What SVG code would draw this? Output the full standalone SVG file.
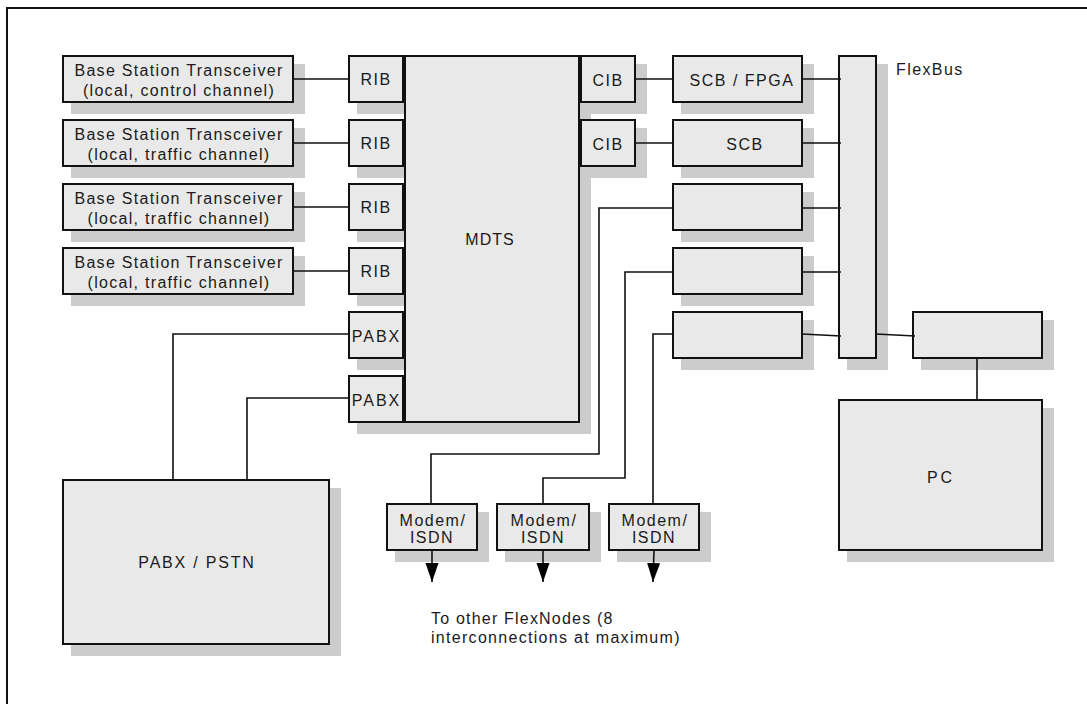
<svg xmlns="http://www.w3.org/2000/svg" width="1087" height="704" viewBox="0 0 1087 704">
  <style>
    .sh { fill: #cccccc; stroke: none; }
    .bx { fill: #e9e9e9; stroke: #111; stroke-width: 2; }
    .t { font-family: "Liberation Sans", Arial, sans-serif; font-size: 16px; letter-spacing: 1.5px; fill: #1a1a1a; text-anchor: middle; }
    .tl { text-anchor: start; }
    .c { fill: none; stroke: #111; stroke-width: 1.6; }
  </style>
  <defs>
    <marker id="arr" markerUnits="userSpaceOnUse" markerWidth="20" markerHeight="14" viewBox="0 0 20 14" refX="19" refY="7" orient="auto">
      <path d="M0,0.5 L19,7 L0,13.5 Z" fill="#000"/>
    </marker>
  </defs>
  <rect x="7" y="8" width="1100" height="720" fill="none" stroke="#111" stroke-width="2"/>

  <g id="bst1"><rect class="sh" x="71" y="64" width="234" height="50"/><rect class="bx" x="63" y="56" width="230" height="46"/>
    <text class="t" style="letter-spacing:1.3px" x="179" y="76">Base Station Transceiver</text><text class="t" style="letter-spacing:1.3px" x="179" y="95.5">(local, control channel)</text></g>
  <g id="bst2"><rect class="sh" x="71" y="128" width="234" height="50"/><rect class="bx" x="63" y="120" width="230" height="46"/>
    <text class="t" style="letter-spacing:1.3px" x="179" y="140">Base Station Transceiver</text><text class="t" style="letter-spacing:1.3px" x="179" y="159.5">(local, traffic channel)</text></g>
  <g id="bst3"><rect class="sh" x="71" y="192" width="234" height="50"/><rect class="bx" x="63" y="184" width="230" height="46"/>
    <text class="t" style="letter-spacing:1.3px" x="179" y="204">Base Station Transceiver</text><text class="t" style="letter-spacing:1.3px" x="179" y="223.5">(local, traffic channel)</text></g>
  <g id="bst4"><rect class="sh" x="71" y="256" width="234" height="50"/><rect class="bx" x="63" y="248" width="230" height="46"/>
    <text class="t" style="letter-spacing:1.3px" x="179" y="268">Base Station Transceiver</text><text class="t" style="letter-spacing:1.3px" x="179" y="287.5">(local, traffic channel)</text></g>

  <g id="rib1"><rect class="sh" x="357" y="64" width="58" height="50"/><rect class="bx" x="349" y="56" width="54" height="46"/><text class="t" x="376" y="85">RIB</text></g>
  <g id="rib2"><rect class="sh" x="357" y="128" width="58" height="50"/><rect class="bx" x="349" y="120" width="54" height="46"/><text class="t" x="376" y="149">RIB</text></g>
  <g id="rib3"><rect class="sh" x="357" y="192" width="58" height="50"/><rect class="bx" x="349" y="184" width="54" height="46"/><text class="t" x="376" y="213">RIB</text></g>
  <g id="rib4"><rect class="sh" x="357" y="256" width="58" height="50"/><rect class="bx" x="349" y="248" width="54" height="46"/><text class="t" x="376" y="277">RIB</text></g>
  <g id="pabx1"><rect class="sh" x="357" y="320" width="58" height="50"/><rect class="bx" x="349" y="312" width="54" height="46"/><text class="t" x="376.5" y="342" style="letter-spacing:2px">PABX</text></g>
  <g id="pabx2"><rect class="sh" x="357" y="384" width="58" height="50"/><rect class="bx" x="349" y="376" width="54" height="46"/><text class="t" x="376.5" y="406" style="letter-spacing:2px">PABX</text></g>

  <g id="mdts"><rect class="sh" x="413" y="64" width="178" height="370"/><rect class="bx" x="405" y="56" width="174" height="366"/><text class="t" x="490" y="245" style="letter-spacing:1px">MDTS</text></g>

  <g id="cib1"><rect class="sh" x="589" y="64" width="58" height="50"/><rect class="bx" x="581" y="56" width="54" height="46"/><text class="t" x="608" y="86">CIB</text></g>
  <g id="cib2"><rect class="sh" x="589" y="128" width="58" height="50"/><rect class="bx" x="581" y="120" width="54" height="46"/><text class="t" x="608" y="150">CIB</text></g>

  <g id="scbfpga"><rect class="sh" x="681" y="64" width="133" height="50"/><rect class="bx" x="673" y="56" width="129" height="46"/><text class="t" x="742" y="86">SCB / FPGA</text></g>
  <g id="scb"><rect class="sh" x="681" y="128" width="133" height="50"/><rect class="bx" x="673" y="120" width="129" height="46"/><text class="t" x="745" y="150">SCB</text></g>
  <g id="card3"><rect class="sh" x="681" y="192" width="133" height="50"/><rect class="bx" x="673" y="184" width="129" height="46"/></g>
  <g id="card4"><rect class="sh" x="681" y="256" width="133" height="50"/><rect class="bx" x="673" y="248" width="129" height="46"/></g>
  <g id="card5"><rect class="sh" x="681" y="320" width="133" height="50"/><rect class="bx" x="673" y="312" width="129" height="46"/></g>

  <g id="flexbus"><rect class="sh" x="847" y="64" width="41" height="306"/><rect class="bx" x="839" y="56" width="37" height="302"/><text class="t tl" x="896" y="75" style="letter-spacing:1.4px">FlexBus</text></g>
  <g id="interface"><rect class="sh" x="921" y="320" width="133" height="50"/><rect class="bx" x="913" y="312" width="129" height="46"/></g>
  <g id="pc"><rect class="sh" x="847" y="408" width="207" height="154"/><rect class="bx" x="839" y="400" width="203" height="150"/><text class="t" x="941" y="483" style="letter-spacing:3px">PC</text></g>
  <g id="pabxpstn"><rect class="sh" x="71" y="488" width="270" height="168"/><rect class="bx" x="63" y="480" width="266" height="164"/><text class="t" x="197" y="568" style="letter-spacing:1.8px">PABX / PSTN</text></g>

  <g id="modem1"><rect class="sh" x="395" y="512" width="94" height="50"/><rect class="bx" x="387" y="504" width="90" height="46"/><text class="t" x="433" y="525.5">Modem/</text><text class="t" x="432" y="542.5">ISDN</text></g>
  <g id="modem2"><rect class="sh" x="505" y="512" width="96" height="50"/><rect class="bx" x="497" y="504" width="92" height="46"/><text class="t" x="544" y="525.5">Modem/</text><text class="t" x="543" y="542.5">ISDN</text></g>
  <g id="modem3"><rect class="sh" x="617" y="512" width="94" height="50"/><rect class="bx" x="609" y="504" width="90" height="46"/><text class="t" x="655" y="525.5">Modem/</text><text class="t" x="654" y="542.5">ISDN</text></g>

  <g id="note"><text class="t tl" x="431" y="624" style="letter-spacing:1.2px">To other FlexNodes (8</text><text class="t tl" x="431" y="643" style="letter-spacing:1.3px">interconnections at maximum)</text></g>

  <g id="connectors">
    <line class="c" x1="293" y1="79" x2="349" y2="79"/>
    <line class="c" x1="293" y1="143" x2="349" y2="143"/>
    <line class="c" x1="293" y1="207" x2="349" y2="207"/>
    <line class="c" x1="293" y1="271" x2="349" y2="271"/>
    <line class="c" x1="635" y1="79" x2="673" y2="79"/>
    <line class="c" x1="635" y1="143" x2="673" y2="143"/>
    <line class="c" x1="802" y1="79" x2="841" y2="79"/>
    <line class="c" x1="802" y1="143" x2="841" y2="143"/>
    <line class="c" x1="802" y1="208" x2="841" y2="208"/>
    <line class="c" x1="802" y1="272" x2="841" y2="272"/>
    <line class="c" x1="802" y1="334" x2="841" y2="336"/>
    <line class="c" x1="876" y1="334" x2="915" y2="336"/>
    <line class="c" x1="977" y1="358" x2="977" y2="400"/>
    <polyline class="c" points="349,334 173,334 173,480"/>
    <polyline class="c" points="349,398 247,398 247,480"/>
    <polyline class="c" points="673,208 599,208 599,454 431,454 431,504"/>
    <polyline class="c" points="673,272 625,272 625,478 543,478 543,504"/>
    <polyline class="c" points="673,334 653,334 653,504"/>
    <line class="c" x1="432" y1="550" x2="432" y2="582" marker-end="url(#arr)"/>
    <line class="c" x1="543" y1="550" x2="543" y2="582" marker-end="url(#arr)"/>
    <line class="c" x1="654" y1="550" x2="653" y2="582" marker-end="url(#arr)"/>
  </g>
</svg>
